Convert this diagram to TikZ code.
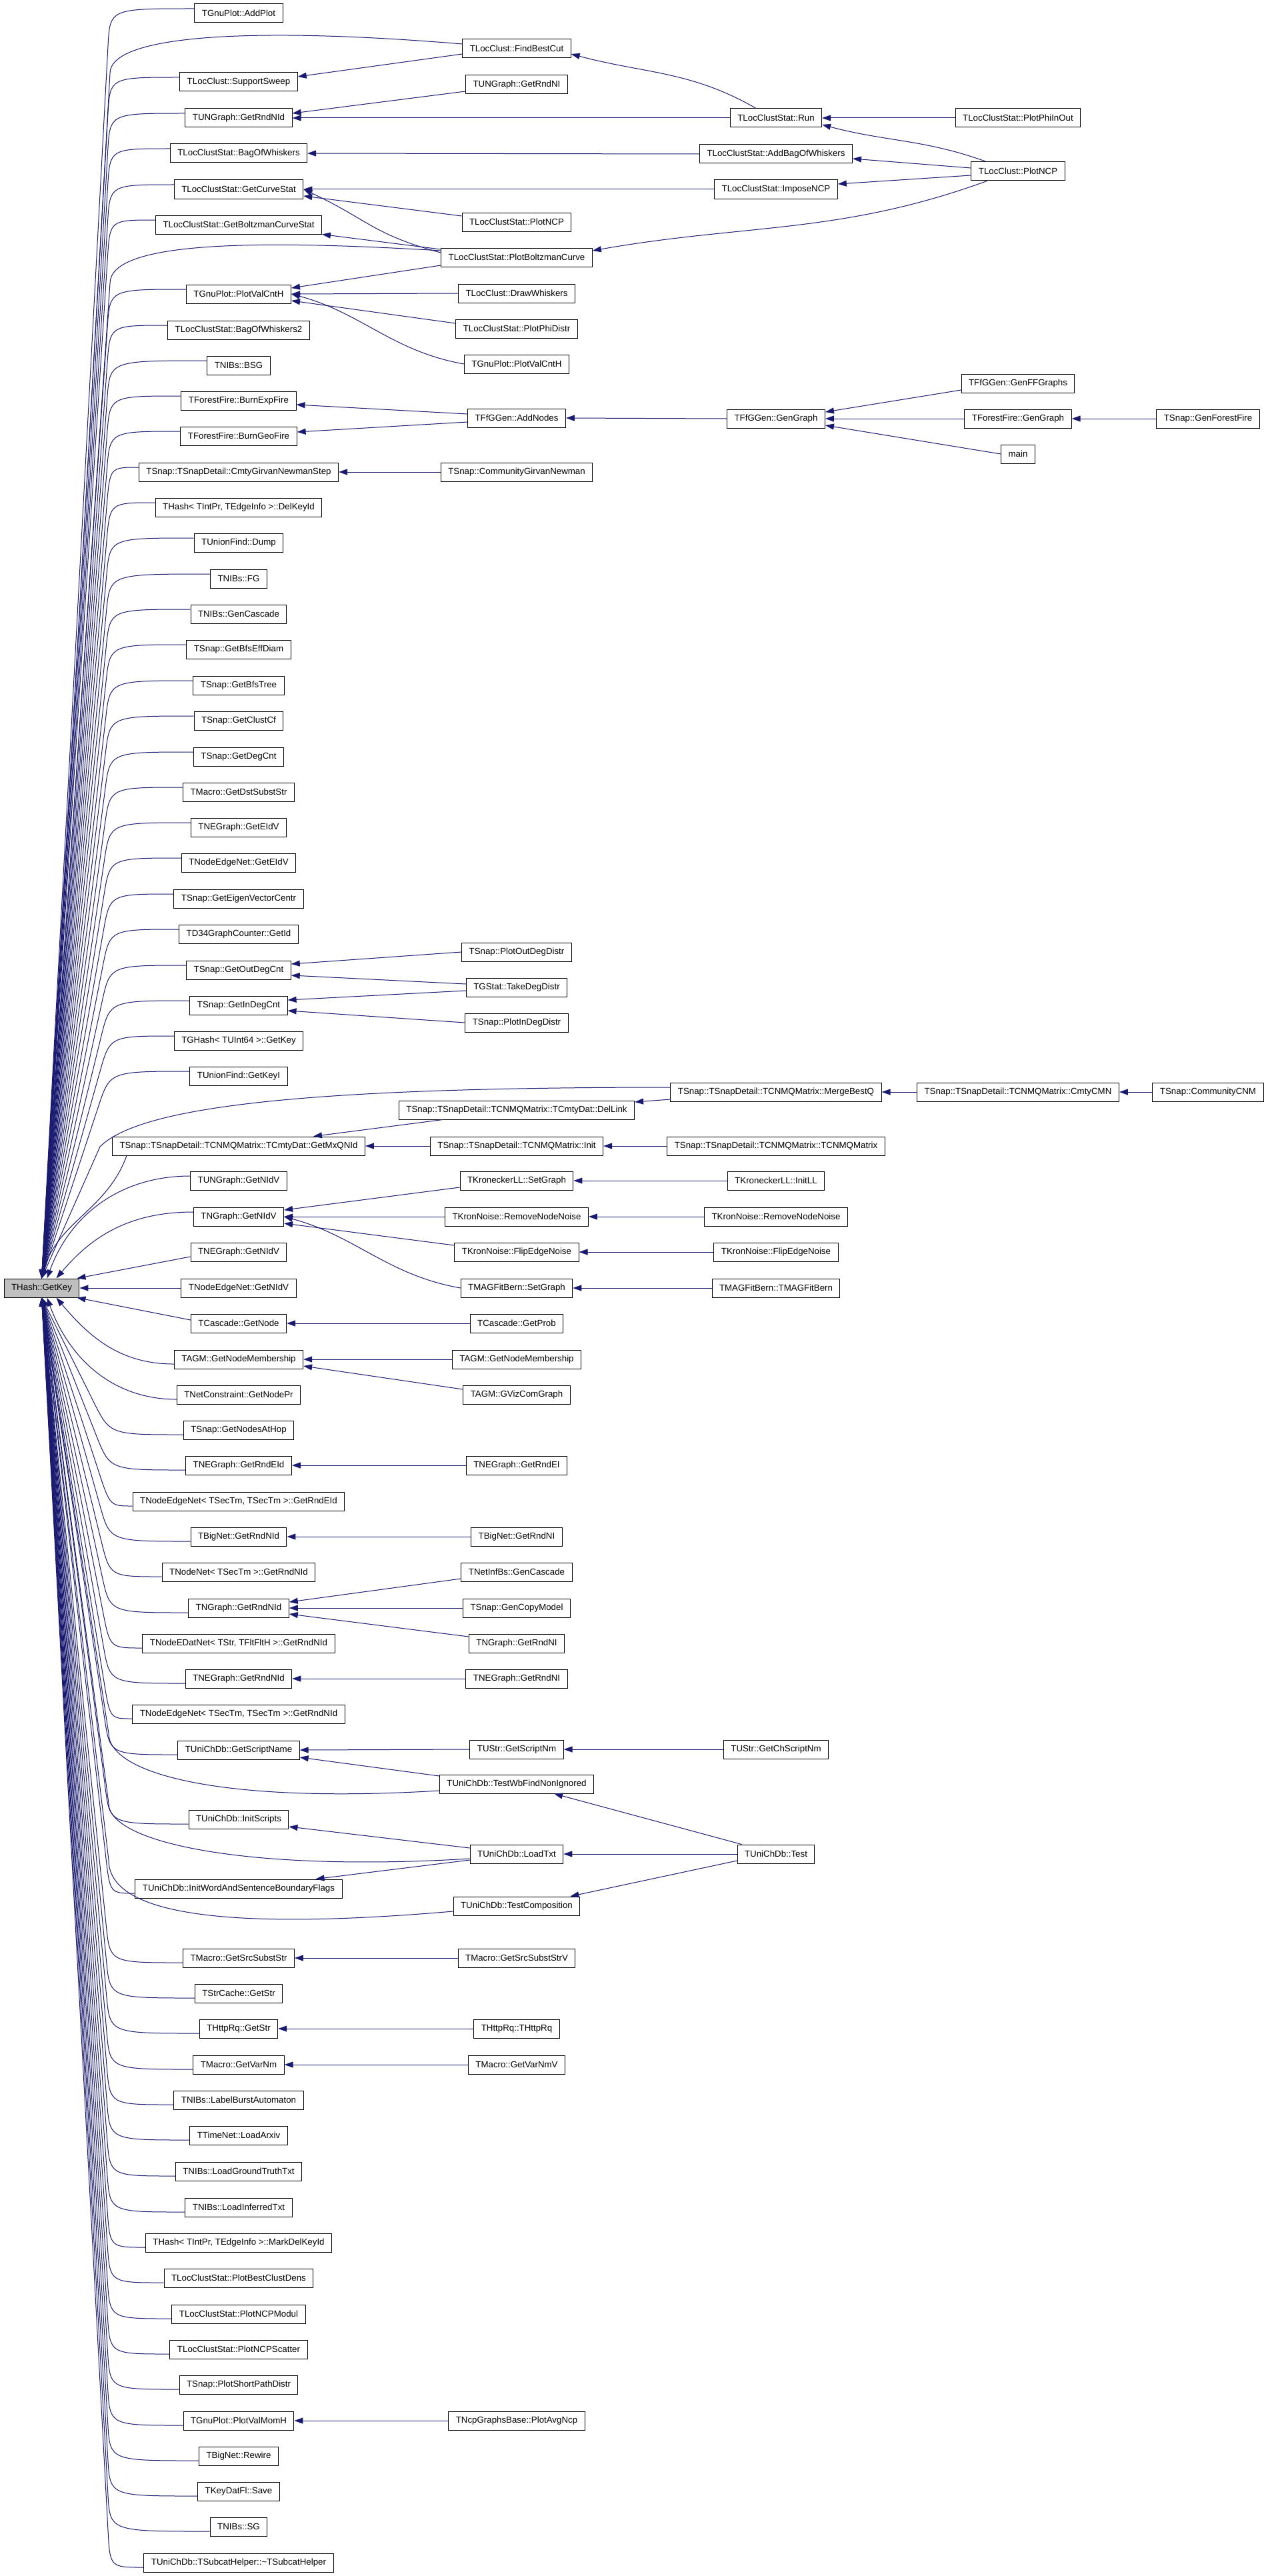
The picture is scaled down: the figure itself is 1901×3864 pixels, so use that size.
\documentclass[tikz,border=0pt]{standalone}
\usepackage{fontspec}
\setmainfont{Liberation Sans}
\usetikzlibrary{arrows.meta,calc}
\definecolor{edgeblue}{RGB}{25,25,112}
\tikzset{
  fn/.style={draw=black, line width=1pt, fill=white, minimum height=28pt,
    inner xsep=11pt, inner ysep=0pt, font=\fontsize{13.3pt}{16pt}\selectfont},
  hl/.style={fn, fill=black!25},
  call/.style={draw=edgeblue, line width=1pt, -{Triangle[length=13pt,width=9pt]}},
}
% caller -> THash::GetKey, bending along the left margin
\newcommand\tokeyabove[1]{%
  \path ($(#1.west -| bx)+(0,-7)$) coordinate (kc);
  \draw[call] ($(#1.west)+(0,-7)$) .. controls (kc) .. ($(kc)!55pt!(getkey.north)$) -- (getkey.north);}
\newcommand\tokeybelow[1]{%
  \path ($(#1.west -| bx)+(0,7)$) coordinate (kc);
  \draw[call] ($(#1.west)+(0,7)$) .. controls (kc) .. ($(kc)!55pt!(getkey.south)$) -- (getkey.south);}

\begin{document}
\begin{tikzpicture}[x=1pt,y=-1pt]
    \useasboundingbox (0,0) rectangle (1901,3864);
    \coordinate (bx) at (165,0);

    \node[hl] (getkey) at (62.5,1932) {THash::GetKey};

    % first column
    \node[fn] (addplot) at (358,20) {TGnuPlot::AddPlot};
    \node[fn] (supportsweep) at (358,123) {TLocClust::SupportSweep};
    \node[fn] (ungrndnid) at (358,177) {TUNGraph::GetRndNId};
    \node[fn] (bagofwhiskers) at (358,230) {TLocClustStat::BagOfWhiskers};
    \node[fn] (getcurvestat) at (358,284) {TLocClustStat::GetCurveStat};
    \node[fn] (getboltzman) at (358,337) {TLocClustStat::GetBoltzmanCurveStat};
    \node[fn] (plotvalcnth) at (358,441) {TGnuPlot::PlotValCntH};
    \node[fn] (bagofwhiskers2) at (358,495) {TLocClustStat::BagOfWhiskers2};
    \node[fn] (bsg) at (358,548) {TNIBs::BSG};
    \node[fn] (burnexpfire) at (358,601) {TForestFire::BurnExpFire};
    \node[fn] (burngeofire) at (358,654) {TForestFire::BurnGeoFire};
    \node[fn] (gnstep) at (358,708) {TSnap::TSnapDetail::CmtyGirvanNewmanStep};
    \node[fn] (delkeyid) at (358,761) {THash< TIntPr, TEdgeInfo >::DelKeyId};
    \node[fn] (dump) at (358,814) {TUnionFind::Dump};
    \node[fn] (fg) at (358,868) {TNIBs::FG};
    \node[fn] (gencascade) at (358,921) {TNIBs::GenCascade};
    \node[fn] (bfseffdiam) at (358,974) {TSnap::GetBfsEffDiam};
    \node[fn] (bfstree) at (358,1028) {TSnap::GetBfsTree};
    \node[fn] (clustcf) at (358,1081) {TSnap::GetClustCf};
    \node[fn] (degcnt) at (358,1135) {TSnap::GetDegCnt};
    \node[fn] (dstsubststr) at (358,1188) {TMacro::GetDstSubstStr};
    \node[fn] (negeidv) at (358,1241) {TNEGraph::GetEIdV};
    \node[fn] (neteidv) at (358,1294) {TNodeEdgeNet::GetEIdV};
    \node[fn] (eigenvec) at (358,1348) {TSnap::GetEigenVectorCentr};
    \node[fn] (d34getid) at (358,1401) {TD34GraphCounter::GetId};
    \node[fn] (outdegcnt) at (358,1455) {TSnap::GetOutDegCnt};
    \node[fn] (indegcnt) at (358,1508) {TSnap::GetInDegCnt};
    \node[fn] (ghashkey) at (358,1561) {TGHash< TUInt64 >::GetKey};
    \node[fn] (getkeyi) at (358,1614) {TUnionFind::GetKeyI};
    \node[fn] (getmxqnid) at (358,1719) {TSnap::TSnapDetail::TCNMQMatrix::TCmtyDat::GetMxQNId};
    \node[fn] (ungnidv) at (358,1771) {TUNGraph::GetNIdV};
    \node[fn] (ngnidv) at (358,1825) {TNGraph::GetNIdV};
    \node[fn] (negnidv) at (358,1878) {TNEGraph::GetNIdV};
    \node[fn] (netnidv) at (358,1932) {TNodeEdgeNet::GetNIdV};
    \node[fn] (getnode) at (358,1985) {TCascade::GetNode};
    \node[fn] (membership) at (358,2039) {TAGM::GetNodeMembership};
    \node[fn] (getnodepr) at (358,2092) {TNetConstraint::GetNodePr};
    \node[fn] (nodesathop) at (358,2145) {TSnap::GetNodesAtHop};
    \node[fn] (negrndeid) at (358,2198) {TNEGraph::GetRndEId};
    \node[fn] (netrndeid) at (358,2252) {TNodeEdgeNet< TSecTm, TSecTm >::GetRndEId};
    \node[fn] (bignetrndnid) at (358,2305) {TBigNet::GetRndNId};
    \node[fn] (nodenetrndnid) at (358,2358) {TNodeNet< TSecTm >::GetRndNId};
    \node[fn] (ngrndnid) at (358,2412) {TNGraph::GetRndNId};
    \node[fn] (edatrndnid) at (358,2465) {TNodeEDatNet< TStr, TFltFltH >::GetRndNId};
    \node[fn] (negrndnid) at (358,2518) {TNEGraph::GetRndNId};
    \node[fn] (netrndnid) at (358,2571) {TNodeEdgeNet< TSecTm, TSecTm >::GetRndNId};
    \node[fn] (getscriptname) at (358,2625) {TUniChDb::GetScriptName};
    \node[fn] (initscripts) at (358,2729) {TUniChDb::InitScripts};
    \node[fn] (initwordflags) at (358,2833) {TUniChDb::InitWordAndSentenceBoundaryFlags};
    \node[fn] (srcsubststr) at (358,2937) {TMacro::GetSrcSubstStr};
    \node[fn] (strcachegetstr) at (358,2990) {TStrCache::GetStr};
    \node[fn] (httpgetstr) at (358,3043) {THttpRq::GetStr};
    \node[fn] (getvarnm) at (358,3097) {TMacro::GetVarNm};
    \node[fn] (labelburst) at (358,3150) {TNIBs::LabelBurstAutomaton};
    \node[fn] (loadarxiv) at (358,3203) {TTimeNet::LoadArxiv};
    \node[fn] (loadground) at (358,3257) {TNIBs::LoadGroundTruthTxt};
    \node[fn] (loadinferred) at (358,3311) {TNIBs::LoadInferredTxt};
    \node[fn] (markdelkeyid) at (358,3364) {THash< TIntPr, TEdgeInfo >::MarkDelKeyId};
    \node[fn] (bestclustdens) at (358,3417) {TLocClustStat::PlotBestClustDens};
    \node[fn] (ncpmodul) at (358,3471) {TLocClustStat::PlotNCPModul};
    \node[fn] (ncpscatter) at (358,3524) {TLocClustStat::PlotNCPScatter};
    \node[fn] (shortpath) at (358,3577) {TSnap::PlotShortPathDistr};
    \node[fn] (valmomh) at (358,3631) {TGnuPlot::PlotValMomH};
    \node[fn] (rewire) at (358,3684) {TBigNet::Rewire};
    \node[fn] (save) at (358,3737) {TKeyDatFl::Save};
    \node[fn] (sg) at (358,3790) {TNIBs::SG};
    \node[fn] (subcathelper) at (358,3844) {TUniChDb::TSubcatHelper::\textasciitilde TSubcatHelper};

    % second column
    \node[fn] (findbestcut) at (775,73) {TLocClust::FindBestCut};
    \node[fn] (ungrndni) at (775,127) {TUNGraph::GetRndNI};
    \node[fn] (statplotncp) at (775,333) {TLocClustStat::PlotNCP};
    \node[fn] (plotboltzman) at (775,386) {TLocClustStat::PlotBoltzmanCurve};
    \node[fn] (drawwhiskers) at (775,440) {TLocClust::DrawWhiskers};
    \node[fn] (plotphidistr) at (775,493) {TLocClustStat::PlotPhiDistr};
    \node[fn] (plotvalcnth2) at (775,546) {TGnuPlot::PlotValCntH};
    \node[fn] (addnodes) at (775,627) {TFfGGen::AddNodes};
    \node[fn] (gnewman) at (775,708) {TSnap::CommunityGirvanNewman};
    \node[fn] (plotoutdeg) at (775,1428) {TSnap::PlotOutDegDistr};
    \node[fn] (takedegdistr) at (775,1481) {TGStat::TakeDegDistr};
    \node[fn] (plotindeg) at (775,1534) {TSnap::PlotInDegDistr};
    \node[fn] (dellink) at (775,1665) {TSnap::TSnapDetail::TCNMQMatrix::TCmtyDat::DelLink};
    \node[fn] (cnminit) at (775,1719) {TSnap::TSnapDetail::TCNMQMatrix::Init};
    \node[fn] (kronsetgraph) at (775,1771) {TKroneckerLL::SetGraph};
    \node[fn] (removenoise) at (775,1825) {TKronNoise::RemoveNodeNoise};
    \node[fn] (flipnoise) at (775,1878) {TKronNoise::FlipEdgeNoise};
    \node[fn] (magsetgraph) at (775,1932) {TMAGFitBern::SetGraph};
    \node[fn] (getprob) at (775,1985) {TCascade::GetProb};
    \node[fn] (membership2) at (775,2039) {TAGM::GetNodeMembership};
    \node[fn] (gvizcom) at (775,2092) {TAGM::GVizComGraph};
    \node[fn] (negrndei) at (775,2198) {TNEGraph::GetRndEI};
    \node[fn] (bignetrndni) at (775,2305) {TBigNet::GetRndNI};
    \node[fn] (netinfcascade) at (775,2358) {TNetInfBs::GenCascade};
    \node[fn] (gencopymodel) at (775,2412) {TSnap::GenCopyModel};
    \node[fn] (ngrndni) at (775,2465) {TNGraph::GetRndNI};
    \node[fn] (negrndni) at (775,2518) {TNEGraph::GetRndNI};
    \node[fn] (getscriptnm) at (775,2624) {TUStr::GetScriptNm};
    \node[fn] (testwb) at (775,2676) {TUniChDb::TestWbFindNonIgnored};
    \node[fn] (loadtxt) at (775,2781) {TUniChDb::LoadTxt};
    \node[fn] (testcomp) at (775,2859) {TUniChDb::TestComposition};
    \node[fn] (srcsubststrv) at (775,2937) {TMacro::GetSrcSubstStrV};
    \node[fn] (httprq) at (775,3043) {THttpRq::THttpRq};
    \node[fn] (getvarnmv) at (775,3097) {TMacro::GetVarNmV};
    \node[fn] (plotavgncp) at (775,3631) {TNcpGraphsBase::PlotAvgNcp};

    % third column
    \node[fn] (clustrun) at (1164,177) {TLocClustStat::Run};
    \node[fn] (addbag) at (1164,231) {TLocClustStat::AddBagOfWhiskers};
    \node[fn] (imposencp) at (1164,284) {TLocClustStat::ImposeNCP};
    \node[fn] (gengraph) at (1164,628) {TFfGGen::GenGraph};
    \node[fn] (mergebestq) at (1164,1638) {TSnap::TSnapDetail::TCNMQMatrix::MergeBestQ};
    \node[fn] (cnmmatrix) at (1164,1719) {TSnap::TSnapDetail::TCNMQMatrix::TCNMQMatrix};
    \node[fn] (initll) at (1164,1771) {TKroneckerLL::InitLL};
    \node[fn] (removenoise2) at (1164,1825) {TKronNoise::RemoveNodeNoise};
    \node[fn] (flipnoise2) at (1164,1878) {TKronNoise::FlipEdgeNoise};
    \node[fn] (magfitbern) at (1164,1932) {TMAGFitBern::TMAGFitBern};
    \node[fn] (chscriptnm) at (1164,2624) {TUStr::GetChScriptNm};
    \node[fn] (unitest) at (1164,2781) {TUniChDb::Test};

    % fourth and fifth column
    \node[fn] (plotphiinout) at (1527,177) {TLocClustStat::PlotPhiInOut};
    \node[fn] (clustplotncp) at (1527,257) {TLocClust::PlotNCP};
    \node[fn] (genffgraphs) at (1527,575) {TFfGGen::GenFFGraphs};
    \node[fn] (ffgengraph) at (1527,628) {TForestFire::GenGraph};
    \node[fn] (main) at (1527,681) {main};
    \node[fn] (cmtycmn) at (1527,1638) {TSnap::TSnapDetail::TCNMQMatrix::CmtyCMN};
    \node[fn] (genforestfire) at (1812,628) {TSnap::GenForestFire};
    \node[fn] (communitycnm) at (1812,1638) {TSnap::CommunityCNM};

    % bend points of the long calls
    \coordinate (fbcbend) at (165,110);
    \coordinate (pbcbend) at (165,425);
    \coordinate (mqbend) at (150,1720);
    \coordinate (twbbend) at (163,2600);
    \coordinate (ltxbend) at (163,2705);
    \coordinate (tcbend) at (163,2790);

    % calls into THash::GetKey
    \tokeyabove{addplot}
    \tokeyabove{supportsweep}
    \tokeyabove{ungrndnid}
    \tokeyabove{bagofwhiskers}
    \tokeyabove{getcurvestat}
    \tokeyabove{getboltzman}
    \tokeyabove{plotvalcnth}
    \tokeyabove{bagofwhiskers2}
    \tokeyabove{bsg}
    \tokeyabove{burnexpfire}
    \tokeyabove{burngeofire}
    \tokeyabove{gnstep}
    \tokeyabove{delkeyid}
    \tokeyabove{dump}
    \tokeyabove{fg}
    \tokeyabove{gencascade}
    \tokeyabove{bfseffdiam}
    \tokeyabove{bfstree}
    \tokeyabove{clustcf}
    \tokeyabove{degcnt}
    \tokeyabove{dstsubststr}
    \tokeyabove{negeidv}
    \tokeyabove{neteidv}
    \tokeyabove{eigenvec}
    \tokeyabove{d34getid}
    \tokeyabove{outdegcnt}
    \tokeyabove{indegcnt}
    \tokeyabove{ghashkey}
    \tokeyabove{getkeyi}
    \draw[call] ([xshift=22pt]getmxqnid.south west) to[out=250, in=75] (getkey.north);
    \draw[call] ([yshift=7pt]ungnidv.west) to[out=180, in=70] ([xshift=8pt]getkey.north);
    \draw[call] ([yshift=7pt]ngnidv.west) to[out=180, in=50] ([xshift=22pt]getkey.north);
    \draw[call] ([yshift=-7pt]negnidv.west) -- ([xshift=-4pt]getkey.north east);
    \draw[call] (netnidv.west) -- (getkey.east);
    \draw[call] ([yshift=5pt]getnode.west) -- ([xshift=-4pt]getkey.south east);
    \draw[call] ([yshift=-7pt]membership.west) to[out=180, in=-50] ([xshift=22pt]getkey.south);
    \draw[call] ([yshift=-7pt]getnodepr.west) to[out=180, in=-70] ([xshift=8pt]getkey.south);
    \tokeybelow{nodesathop}
    \tokeybelow{negrndeid}
    \tokeybelow{netrndeid}
    \tokeybelow{bignetrndnid}
    \tokeybelow{nodenetrndnid}
    \tokeybelow{ngrndnid}
    \tokeybelow{edatrndnid}
    \tokeybelow{negrndnid}
    \tokeybelow{netrndnid}
    \tokeybelow{getscriptname}
    \tokeybelow{initscripts}
    \tokeybelow{initwordflags}
    \tokeybelow{srcsubststr}
    \tokeybelow{strcachegetstr}
    \tokeybelow{httpgetstr}
    \tokeybelow{getvarnm}
    \tokeybelow{labelburst}
    \tokeybelow{loadarxiv}
    \tokeybelow{loadground}
    \tokeybelow{loadinferred}
    \tokeybelow{markdelkeyid}
    \tokeybelow{bestclustdens}
    \tokeybelow{ncpmodul}
    \tokeybelow{ncpscatter}
    \tokeybelow{shortpath}
    \tokeybelow{valmomh}
    \tokeybelow{rewire}
    \tokeybelow{save}
    \tokeybelow{sg}
    \tokeybelow{subcathelper}
    \draw[call] ([yshift=7pt]findbestcut.west) .. controls +(-300,-25) and +(0,-60) .. (fbcbend) -- (getkey.north);
    \draw[call] ([yshift=10pt]plotboltzman.west) .. controls +(-300,-18) and +(0,-60) .. (pbcbend) -- (getkey.north);
    \draw[call] ([yshift=7pt]mergebestq.west) .. controls +(-550,0) and +(60,-60) .. (mqbend) -- (getkey.north);
    \draw[call] ([yshift=-10pt]testwb.west) .. controls +(-330,20) and +(0,60) .. (twbbend) -- (getkey.south);
    \draw[call] ([yshift=-7pt]loadtxt.west) .. controls +(-330,20) and +(0,60) .. (ltxbend) -- (getkey.south);
    \draw[call] ([yshift=-8pt]testcomp.west) .. controls +(-350,30) and +(0,80) .. (tcbend) -- (getkey.south);

    % other calls
    \draw[call] ([yshift=-8pt]findbestcut.west) -- ([yshift=8pt]supportsweep.east);
    \draw[call] ([xshift=-30pt]clustrun.north) to[out=150, in=-15] ([yshift=-8pt]findbestcut.east);
    \draw[call] ([yshift=-10pt]ungrndni.west) -- ([yshift=7pt]ungrndnid.east);
    \draw[call] (clustrun.west) -- (ungrndnid.east);
    \draw[call] (plotphiinout.west) -- (clustrun.east);
    \draw[call] ([xshift=23pt]clustplotncp.north west) to[out=160, in=-15] ([yshift=-10pt]clustrun.east);
    \draw[call] (addbag.west) -- (bagofwhiskers.east);
    \draw[call] ([yshift=5pt]clustplotncp.west) -- ([yshift=-7pt]addbag.east);
    \draw[call] (imposencp.west) -- (getcurvestat.east);
    \draw[call] ([yshift=-6pt]clustplotncp.west) -- ([yshift=8pt]imposencp.east);
    \draw[call] ([xshift=24pt]clustplotncp.south west) to[out=200, in=10] ([yshift=10pt]plotboltzman.east);
    \draw[call] ([yshift=9pt]statplotncp.west) -- ([yshift=-10pt]getcurvestat.east);
    \draw[call] ([yshift=7pt]plotboltzman.west) to[out=165, in=-25, looseness=1.2] (getcurvestat.east);
    \draw[call] ([yshift=12pt]plotboltzman.west) -- (getboltzman.south east);
    \draw[call] ([yshift=-12pt]plotboltzman.west) -- ([yshift=9pt]plotvalcnth.east);
    \draw[call] (drawwhiskers.west) -- (plotvalcnth.east);
    \draw[call] (plotvalcnth2.west) to[out=170, in=-15] (plotvalcnth.east);
    \draw[call] ([yshift=8pt]plotphidistr.west) -- ([yshift=-10pt]plotvalcnth.east);
    \draw[call] ([yshift=6pt]addnodes.west) -- ([yshift=-6pt]burnexpfire.east);
    \draw[call] ([yshift=-6pt]addnodes.west) -- ([yshift=6pt]burngeofire.east);
    \draw[call] (gengraph.west) -- (addnodes.east);
    \draw[call] ([yshift=-10pt]genffgraphs.west) -- ([yshift=10pt]gengraph.east);
    \draw[call] (ffgengraph.west) -- (gengraph.east);
    \draw[call] (main.west) -- ([yshift=-10pt]gengraph.east);
    \draw[call] (genforestfire.west) -- (ffgengraph.east);
    \draw[call] (gnewman.west) -- (gnstep.east);
    \draw[call] (plotoutdeg.west) -- ([yshift=9pt]outdegcnt.east);
    \draw[call] ([yshift=5pt]takedegdistr.west) -- ([yshift=-8pt]outdegcnt.east);
    \draw[call] ([yshift=-5pt]takedegdistr.west) -- ([yshift=8pt]indegcnt.east);
    \draw[call] (plotindeg.west) -- ([yshift=-8pt]indegcnt.east);
    \draw[call] ([yshift=-11pt]mergebestq.west) -- ([yshift=12pt]dellink.east);
    \draw[call] ([xshift=66pt]dellink.south west) -- ([xshift=-78pt]getmxqnid.north east);
    \draw[call] (cnminit.west) -- (getmxqnid.east);
    \draw[call] (cnmmatrix.west) -- (cnminit.east);
    \draw[call] (cmtycmn.west) -- (mergebestq.east);
    \draw[call] (communitycnm.west) -- (cmtycmn.east);
    \draw[call] ([yshift=-10pt]kronsetgraph.west) -- ([yshift=10pt]ngnidv.east);
    \draw[call] (initll.west) -- (kronsetgraph.east);
    \draw[call] (removenoise.west) -- (ngnidv.east);
    \draw[call] (removenoise2.west) -- (removenoise.east);
    \draw[call] ([yshift=10pt]flipnoise.west) -- ([yshift=-10pt]ngnidv.east);
    \draw[call] (flipnoise2.west) -- (flipnoise.east);
    \draw[call] (magsetgraph.west) to[out=170, in=-15] (ngnidv.east);
    \draw[call] (magfitbern.west) -- (magsetgraph.east);
    \draw[call] (getprob.west) -- (getnode.east);
    \draw[call] (membership2.west) -- (membership.east);
    \draw[call] ([yshift=8pt]gvizcom.west) -- ([yshift=-10pt]membership.east);
    \draw[call] (negrndei.west) -- (negrndeid.east);
    \draw[call] (bignetrndni.west) -- (bignetrndnid.east);
    \draw[call] ([yshift=-10pt]netinfcascade.west) -- ([yshift=9pt]ngrndnid.east);
    \draw[call] (gencopymodel.west) -- (ngrndnid.east);
    \draw[call] ([yshift=10pt]ngrndni.west) -- ([yshift=-9pt]ngrndnid.east);
    \draw[call] (negrndni.west) -- (negrndnid.east);
    \draw[call] (getscriptnm.west) -- (getscriptname.east);
    \draw[call] ([yshift=12pt]testwb.west) -- ([yshift=-11pt]getscriptname.east);
    \draw[call] (chscriptnm.west) -- (getscriptnm.east);
    \draw[call] ([yshift=9pt]loadtxt.west) -- ([yshift=-11pt]initscripts.east);
    \draw[call] ([yshift=-9pt]loadtxt.west) -- ([xshift=-40pt]initwordflags.north east);
    \draw[call] ([xshift=7pt]unitest.north west) -- ([xshift=-60pt]testwb.south east);
    \draw[call] (unitest.west) -- (loadtxt.east);
    \draw[call] ([yshift=-10pt]unitest.west) -- ([xshift=-15pt]testcomp.north east);
    \draw[call] (srcsubststrv.west) -- (srcsubststr.east);
    \draw[call] (httprq.west) -- (httpgetstr.east);
    \draw[call] (getvarnmv.west) -- (getvarnm.east);
    \draw[call] (plotavgncp.west) -- (valmomh.east);
\end{tikzpicture}
\end{document}
